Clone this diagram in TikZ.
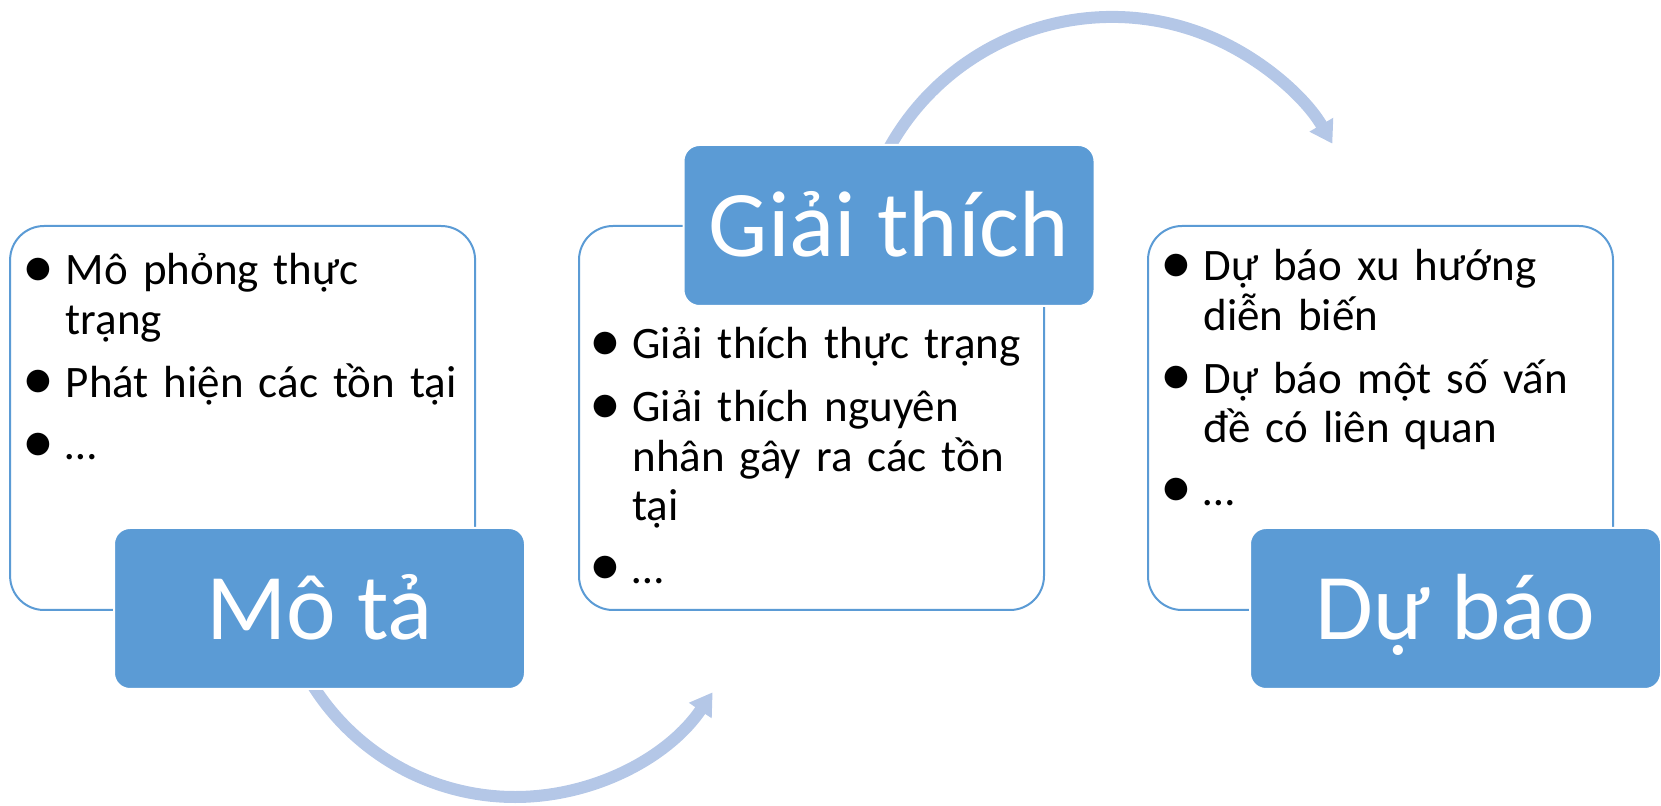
\documentclass[tikz,border=0pt]{standalone}
\usepackage{fontspec}
\setmainfont{Carlito}
\usetikzlibrary{arrows.meta}

\definecolor{accentblue}{HTML}{5B9BD5}
\definecolor{arrowblue}{HTML}{B4C7E7}

\newlength{\bulletind}
\setlength{\bulletind}{21pt}
\newcommand{\bigbullet}{\makebox[15pt][c]{\smash{\raisebox{-1.3pt}{\fontsize{32}{32}\selectfont\textbullet}}}}
\newcommand{\bitem}[1]{\par\noindent\hangindent=\bulletind\hangafter=1\makebox[\bulletind][l]{\bigbullet}#1}
\newcommand{\bstrut}{\rule{0pt}{23pt}}

\begin{document}
\begin{tikzpicture}[x=0.5pt, y=-0.5pt,
  whitebox/.style={draw=accentblue, line width=1pt, fill=white, rounded corners=17pt,
    minimum width=232.5pt, minimum height=192pt, inner sep=0pt},
  titlebox/.style={fill=accentblue, draw=white, line width=1pt, rounded corners=8pt,
    minimum width=205.5pt, minimum height=80.5pt, inner sep=0pt, text=white,
    font=\fontsize{47}{56}\selectfont, text height=31pt, text depth=0pt},
  listtext/.style={anchor=north west, inner sep=0pt, text width=228pt, align=left,
    font=\fontsize{22.5}{24.8}\selectfont,
    execute at begin node={\setlength{\parskip}{6.5pt}}},
  cyclearrow/.style={draw=arrowblue, line width=6pt, -{Triangle[width=13pt,length=11pt]}}
]
  \useasboundingbox (0,0) rectangle (1661,806);

  %--- content boxes ---
  \node[whitebox] (descbox) at (242.6,418) {};
  \node[whitebox] (explbox) at (811.5,418) {};
  \node[whitebox] (predbox) at (1380.5,418) {};

  %--- cycle arrows, tails hidden under the title boxes ---
  \coordinate (motaTail) at (310.1,681.1);
  \draw[cyclearrow] (motaTail) arc[start angle=149, end angle=34.2, radius=239];
  \coordinate (giaithichTail) at (882.8,160.2);
  \draw[cyclearrow] (giaithichTail) arc[start angle=206, end angle=329.8, radius=255];

  %--- title boxes ---
  \node[titlebox] (mota)      at (319.5,608.5)  {Mô tả};
  \node[titlebox] (giaithich) at (889,225.5)    {Giải thích};
  \node[titlebox] (dubao)     at (1455.5,608.5) {Dự báo};

  %--- bullet lists ---
  \node[listtext] (descitems) at (23.5,222) {%
    \bitem{\bstrut Mô phỏng thực\newline trạng}%
    \bitem{Phát hiện các tồn tại}%
    \bitem{…}};
  \node[listtext] (explitems) at (590,296) {%
    \bitem{\bstrut Giải thích thực trạng}%
    \bitem{Giải thích nguyên\newline nhân gây ra các tồn\newline tại}%
    \bitem{…}};
  \node[listtext] (preditems) at (1161,218) {%
    \bitem{\bstrut Dự báo xu hướng\newline diễn biến}%
    \bitem{Dự báo một số vấn\newline đề có liên quan}%
    \bitem{…}};

\end{tikzpicture}
\end{document}
